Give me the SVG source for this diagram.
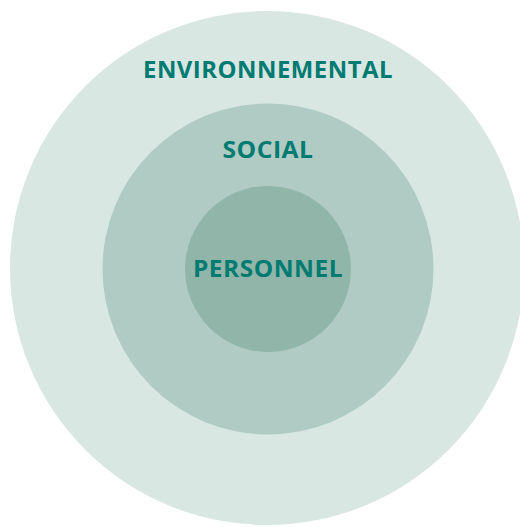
<svg xmlns="http://www.w3.org/2000/svg" width="520" height="527" viewBox="0 0 520 527">
<style>
.lbl{font-family:"Open Sans","Noto Sans","Liberation Sans",sans-serif;font-weight:bold;font-size:24px;fill:#007b72;text-anchor:middle;letter-spacing:0.5px}
</style>
<rect width="520" height="527" fill="#ffffff"/>
<g id="environnemental">
<circle cx="267" cy="268" r="257" fill="#d8e7e2"/>
<text class="lbl" x="268" y="78" textLength="250" lengthAdjust="spacingAndGlyphs">ENVIRONNEMENTAL</text>
</g>
<g id="social">
<circle cx="268" cy="269" r="165.5" fill="#b0cbc3"/>
<text class="lbl" x="268" y="158" textLength="91" lengthAdjust="spacingAndGlyphs">SOCIAL</text>
</g>
<g id="personnel">
<circle cx="268" cy="269" r="83" fill="#91b6a9"/>
<text class="lbl" x="268" y="277" textLength="150" lengthAdjust="spacingAndGlyphs">PERSONNEL</text>
</g>
<g id="connectors"></g>
</svg>
